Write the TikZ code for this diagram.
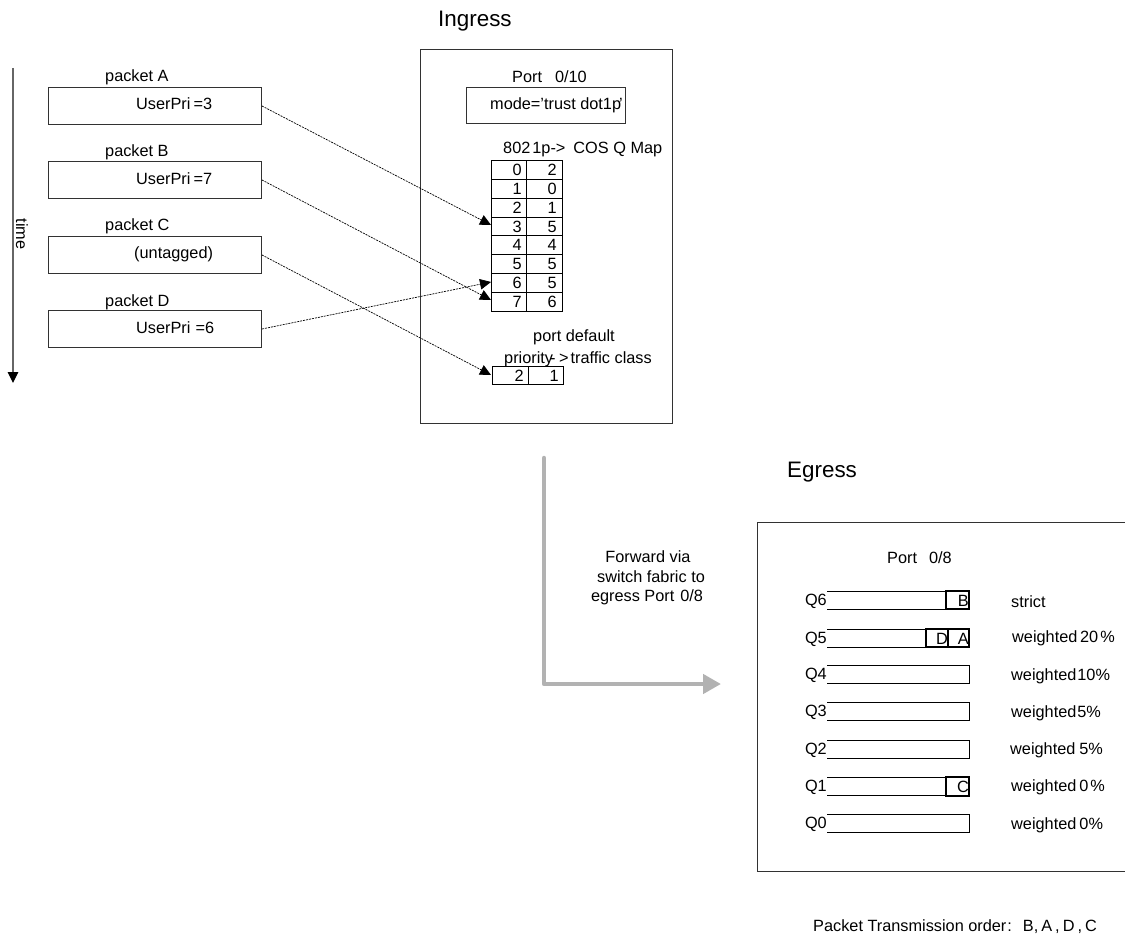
\documentclass[tikz,border=0pt]{standalone}
\usepackage{fontspec}
\setmainfont{Liberation Sans}
\usetikzlibrary{arrows.meta}
\definecolor{ln}{RGB}{50,50,50}
\definecolor{fwd}{RGB}{178,178,178}
\tikzset{
 x=1pt,y=-1pt,
 box/.style={draw=ln,line width=1pt,fill=white,inner sep=0pt,anchor=north west},
 lbl/.style={font=\fontsize{16.3}{17}\selectfont,inner sep=0pt,anchor=base west,text=black},
 ctr/.style={font=\fontsize{16.3}{17}\selectfont,inner sep=0pt,anchor=base,text=black},
 rgt/.style={font=\fontsize{16.3}{17}\selectfont,inner sep=0pt,anchor=base east,text=black},
 head/.style={font=\fontsize{22.4}{24}\selectfont,inner sep=0pt,anchor=base west},
 link/.style={dash pattern=on 2pt off 1pt,line width=.7pt,-{Triangle[length=11pt,width=10.5pt]}},
 grid/.style={draw=black,line width=1pt},
 cell/.style={draw=black,line width=1.4pt},
}
\begin{document}
\begin{tikzpicture}
\useasboundingbox (0,0) rectangle (1125,936);
\node[head] (tIn) at (438,27) {Ingress};
\node[head] (tEg) at (787,477) {Egress};
% time
\coordinate (t0) at (13,68); \coordinate (t1) at (13,383);
\draw[line width=1.2pt,draw=black!60,-{Triangle[length=11pt,width=10.5pt,color=black]}] (t0) -- (t1);
\node[font=\fontsize{16.3}{17}\selectfont,rotate=-90,inner sep=0pt] (tt) at (22,234) {time};
% packets
\node[lbl] (la) at (105,82) {packet A};
\node[lbl] (lb) at (105,157) {packet B};
\node[lbl] (lc) at (105,231) {packet C};
\node[lbl] (ld) at (105,306) {packet D};
\node[box,minimum width=213pt,minimum height=37pt] (pa) at (48,87) {};
\node[box,minimum width=213pt,minimum height=37pt] (pb) at (48,161) {};
\node[box,minimum width=213pt,minimum height=37pt] (pc) at (48,236) {};
\node[box,minimum width=213pt,minimum height=37pt] (pd) at (48,310) {};
\node[lbl] (ua) at (136,110) {UserPri\kern3pt=3};
\node[lbl] (ub) at (136,185) {UserPri\kern3pt=7};
\node[lbl] (uc) at (134,259) {(untagged)};
\node[lbl] (ud) at (136,334) {UserPri\kern5pt=6};
% ingress
\node[box,minimum width=252pt,minimum height=374pt] (ing) at (420,49) {};
\node[lbl] (pin) at (512,83) {Port\hspace{13pt}0/10};
\node[box,minimum width=159pt,minimum height=36pt] (mode) at (466,87) {};
\node[lbl] (mt) at (490,110) {mode='trust dot1p\kern-2pt'};
\node[lbl] (mapt) at (503,154) {802\kern2pt1p->\kern8ptCOS Q Map};
\foreach \i/\a/\b in {0/0/2,1/1/0,2/2/1,3/3/5,4/4/4,5/5/5,6/6/5,7/7/6}{
 \draw[grid] (491,{161+18.75*\i}) rectangle (526,{161+18.75*(\i+1)});
 \draw[grid] (526,{161+18.75*\i}) rectangle (562,{161+18.75*(\i+1)});
 \node[rgt] at (522,{176+18.75*\i}) {\a};
 \node[rgt] at (557,{176+18.75*\i}) {\b};
}
\coordinate (m3) at (491,225);
\coordinate (m6) at (491,282);
\coordinate (m7) at (491,300);
\coordinate (d0) at (491,375);
\node[lbl] (pdf) at (533,341) {port default};
\node[lbl] (prt) at (504,363) {priority\kern-3pt-\kern3.5pt>\kern2pt traffic class};
\draw[grid] (492,366) rectangle (528,384);
\draw[grid] (528,366) rectangle (563,384);
\node[rgt] at (524,381) {2};
\node[rgt] at (559,381) {1};
\draw[link] (pa.east) -- (m3);
\draw[link] (pb.east) -- (m7);
\draw[link] (pc.east) -- (d0);
\draw[link] (pd.east) -- (m6);
% forward
\coordinate (f0) at (544,458); \coordinate (f1) at (544,684); \coordinate (f2) at (721,684);
\draw[draw=fwd,line width=4.5pt,line cap=round,line join=round,-{Triangle[length=18pt,width=19pt]}] (f0) -- (f1) -- (f2);
\node[ctr] (f1t) at (648,562) {Forward via};
\node[ctr] (f2t) at (651,582) {switch fabric to};
\node[ctr] (f3t) at (647,601) {egress Port\kern6pt0/8};
% egress
\draw[draw=ln,line width=1pt] (757,522) rectangle (1127,871);
\node[lbl] (peg) at (887,563) {Port\hspace{12pt}0/8};
\foreach \q/\t in {6/591,5/629,4/665,3/702,2/740,1/777,0/814}{
 \draw[draw=black,line width=1pt] (827,\t) -- (969,\t) -- (969,\t+18.5) -- (827,\t+18.5);
 \node[rgt] at (827,\t+14.5) {Q\q};
}
\draw[cell] (946,591) rectangle (969,609);
\draw[cell] (926,629) rectangle (948,647);
\draw[cell] (948,629) rectangle (969,647);
\draw[cell] (946,777) rectangle (969,796);
\node[rgt] at (969,606) {B};
\node[rgt] at (948,644) {D};
\node[rgt] at (969,644) {A};
\node[rgt] at (969,792) {C};
\node[lbl] at (1011,607) {strict};
\node[lbl] at (1012,642) {weighted\,20\kern2pt\%};
\node[lbl] at (1011,680) {weighted\kern1pt10\%};
\node[lbl] at (1011,717) {weighted\kern1pt5\%};
\node[lbl] at (1010,754) {weighted\kern4pt5\%};
\node[lbl] at (1011,791) {weighted\kern3pt0\kern2pt\%};
\node[lbl] at (1011,829) {weighted\kern3pt0\%};
\node[lbl] (ord) at (813,931) {Packet Transmission order\kern1pt:\kern11ptB,\kern3pt A\kern3pt,\kern3pt D\kern3pt,\kern3pt C};
\end{tikzpicture}
\end{document}
